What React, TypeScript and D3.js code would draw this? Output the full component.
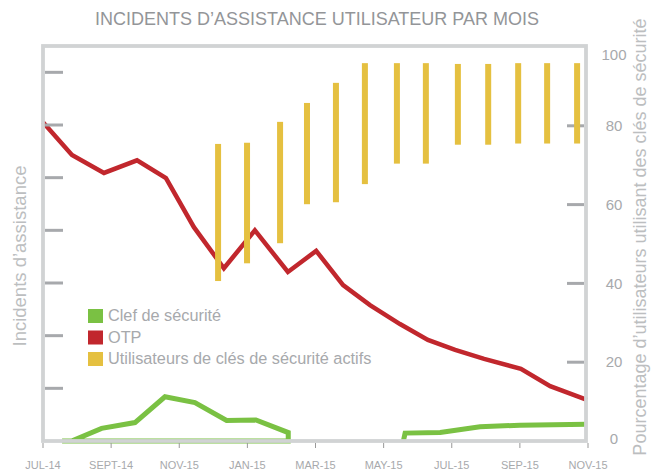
import * as d3 from "d3";

// x positions are in months since JUL-14
const tickLabels = ["JUL-14", "SEPT-14", "NOV-15", "JAN-15", "MAR-15", "MAY-15", "JUL-15", "SEP-15", "NOV-15"];
const leftTicks = [1, 2, 3, 4, 5, 6, 7].map((d) => d * 100);
const rightTicks = [0, 20, 40, 60, 80, 100];

const otpMonths = [0, 0.85, 1.79, 2.76, 3.61, 4.43, 5.31, 6.22, 7.19, 8.02, 8.81, 9.6, 10.48, 11.3, 12.1, 12.95, 14.03, 14.89, 15.97];
const otpValues = [605, 543, 509, 533, 499, 406, 328, 400, 321, 361, 296, 258, 222, 192, 173, 156, 137, 104, 78];

const keyMonthsA = [0.56, 0.84, 1.72, 2.7, 3.58, 4.46, 5.39, 6.25, 7.2, 7.2];
const keyValuesA = [0, 0, 24, 35, 84, 73, 39, 40, 16, 0];
const keyMonthsB = [10.58, 10.63, 11.66, 12.83, 14.0, 15.97];
const keyValuesB = [0, 15, 16, 27, 30, 32];

const barMonths = [5.14, 5.99, 6.96, 7.75, 8.6, 9.45, 10.39, 11.24, 12.18, 13.07, 13.95, 14.8, 15.68];
const barLow = [40.6, 45.1, 50.2, 60.1, 60.6, 65.2, 70.4, 70.4, 75.2, 75.2, 75.5, 75.5, 75.5];
const barHigh = [75.4, 75.7, 81, 85.8, 90.9, 95.9, 95.9, 95.9, 95.7, 95.7, 95.9, 95.9, 95.9];

const legendItems = [
  { label: "Clef de sécurité", color: "#7ac143" },
  { label: "OTP", color: "#c1272d" },
  { label: "Utilisateurs de clés de sécurité actifs", color: "#e5c040" },
];

const W = 651, H = 471;
const frame = { left: 43, right: 586, top: 46, bottom: 441 };
const font = "'Liberation Sans', Arial, Helvetica, sans-serif";

export default function App() {
  const x = d3.scaleLinear().domain([0, 16]).range([frame.left, 588]);
  const yLeft = d3.scaleLinear().domain([0, 750]).range([frame.bottom, frame.top]);
  const yRight = d3.scaleLinear().domain([0, 100]).range([frame.bottom, 47]);

  const line = d3
    .line<[number, number]>()
    .x((d) => x(d[0]))
    .y((d) => yLeft(d[1]));

  const otp = otpMonths.map((m, i) => [m, otpValues[i]] as [number, number]);
  const keyA = keyMonthsA.map((m, i) => [m, keyValuesA[i]] as [number, number]);
  keyA.push(keyA[0]); // closes back along the baseline
  const keyB = keyMonthsB.map((m, i) => [m, keyValuesB[i]] as [number, number]);

  return (
    <svg width={W} height={H} style={{ position: "absolute", left: 0, top: 0 }} fontFamily={font}>
      <rect width={W} height={H} fill="white" />
      <text x={317} y={25} textAnchor="middle" fontSize={18} fill="#939598">
        INCIDENTS D’ASSISTANCE UTILISATEUR PAR MOIS
      </text>

      <path d={line(otp) ?? ""} fill="none" stroke="#c1272d" strokeWidth={4.5} strokeLinejoin="miter" />
      <path d={line(keyA) ?? ""} fill="none" stroke="#7ac143" strokeWidth={5} />
      <path d={line(keyB) ?? ""} fill="none" stroke="#7ac143" strokeWidth={5} />

      <rect
        x={frame.left}
        y={frame.top}
        width={frame.right - frame.left}
        height={frame.bottom - frame.top}
        fill="none"
        stroke="#d1d3d4"
        strokeWidth={3.8}
      />

      {leftTicks.map((t) => (
        <line key={t} x1={frame.left + 2} x2={frame.left + 20} y1={yLeft(t)} y2={yLeft(t)} stroke="#a7a9ac" strokeWidth={3} />
      ))}
      {rightTicks.filter((t) => t > 0 && t < 100).map((t) => (
        <line key={t} x1={frame.right - 19} x2={frame.right - 2} y1={yRight(t)} y2={yRight(t)} stroke="#a7a9ac" strokeWidth={3} />
      ))}

      {barMonths.map((m, i) => (
        <rect
          key={i}
          x={x(m) - 3}
          y={yRight(barHigh[i])}
          width={6}
          height={yRight(barLow[i]) - yRight(barHigh[i])}
          fill="#e5c040"
        />
      ))}

      {tickLabels.map((l, i) => (
        <g key={i} transform={`translate(${x(i * 2)},0)`}>
          <line y1={frame.bottom + 2} y2={frame.bottom + 7} stroke="#999" strokeWidth={1} />
          <text y={469} textAnchor="middle" fontSize={11} fill="#a7a9ac">
            {l}
          </text>
        </g>
      ))}

      {rightTicks.map((t) => (
        <text
          key={t}
          x={614}
          y={yRight(t)}
          dy={t === 100 ? "0.85em" : t === 0 ? "0.2em" : "0.35em"}
          textAnchor="middle"
          fontSize={15}
          fill="#a7a9ac"
        >
          {t}
        </text>
      ))}

      <text transform="translate(26,256) rotate(-90)" textAnchor="middle" fontSize={18.5} fill="#bcbec0">
        Incidents d’assistance
      </text>
      <text transform="translate(646,237) rotate(-90)" textAnchor="middle" fontSize={18} fill="#bcbec0">
        Pourcentage d’utilisateurs utilisant des clés de sécurité
      </text>

      {legendItems.map((d, i) => (
        <g key={d.label} transform={`translate(88,${309 + i * 21.5})`}>
          <rect width={15} height={14} fill={d.color} />
          <text x={20} y={12} fontSize={16.3} fill="#a7a9ac">
            {d.label}
          </text>
        </g>
      ))}
    </svg>
  );
}
